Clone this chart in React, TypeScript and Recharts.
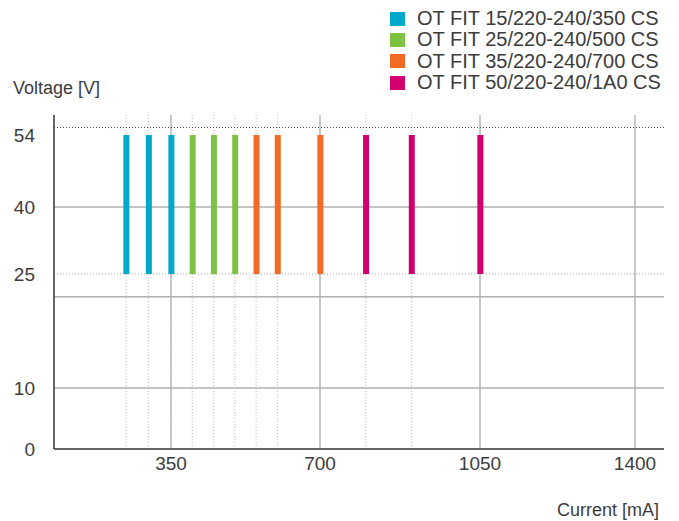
import { ComposedChart, Bar, Cell, XAxis, YAxis, CartesianGrid } from 'recharts';

const families = [
  'OT FIT 15/220-240/350 CS',
  'OT FIT 25/220-240/500 CS',
  'OT FIT 35/220-240/700 CS',
  'OT FIT 50/220-240/1A0 CS',
];
const familyColors = ['#00A8C9', '#7DC242', '#F26A24', '#D1006F'];

const currents15 = [250, 300, 350];
const currents25 = [400, 450, 500];
const currents35 = [550, 600, 700];
const currents50 = [800, 900, 1050];

const voltMin = 25;
const voltMax = 54;

const xTicks = [350, 700, 1050, 1400];
const voltTicks = [0, 10, 25, 40, 54];
const solidVolts = [10, 22, 40];
const dottedVolts = [25];
const topVolt = 55.5;

// the drawing's axes are not to scale: piecewise stops (value -> axis units)
const voltStops = [0, 10, 25, 40, 54, 58];
const voltAxisStops = [0, 61, 175, 242, 314, 334];
const currentStops = [90, 350, 700, 1050, 1400, 1466];
const currentAxisStops = [0, 117, 266, 426, 581, 610];

const piecewise = (stops: number[], out: number[]) => (v: number) => {
  for (let i = 1; i < stops.length; i++) {
    if (v <= stops[i] || i === stops.length - 1) {
      const t = (v - stops[i - 1]) / (stops[i] - stops[i - 1]);
      return out[i - 1] + t * (out[i] - out[i - 1]);
    }
  }
  return 0;
};
const vAxis = piecewise(voltStops, voltAxisStops);
const cAxis = piecewise(currentStops, currentAxisStops);

const groups = [currents15, currents25, currents35, currents50];
const rows = groups.flatMap((list, g) =>
  list.map((c) => ({ current: cAxis(c), volts: [vAxis(voltMin), vAxis(voltMax)], color: familyColors[g] }))
);
const barPos = rows.map((r) => r.current);
const xTickPos = xTicks.map(cAxis);
const yTickPos = voltTicks.map(vAxis);

const font = '"Liberation Sans", Arial, sans-serif';
const textColor = '#3c3c3c';

const App = () => {
  return (
    <div style={{ position: 'absolute', left: 0, top: 0, width: 679, height: 521, fontFamily: font, color: textColor }}>
      <div style={{ position: 'absolute', left: 390, top: 8 }}>
        {families.map((name, i) => (
          <div key={name} style={{ display: 'flex', alignItems: 'center', height: 21.3 }}>
            <div style={{ width: 15, height: 14, background: familyColors[i], marginRight: 12 }} />
            <span style={{ fontSize: 20, whiteSpace: 'nowrap' }}>{name}</span>
          </div>
        ))}
      </div>
      <div style={{ position: 'absolute', left: 13, top: 78, fontSize: 18, lineHeight: '20px' }}>Voltage [V]</div>
      <div style={{ position: 'absolute', left: 557, top: 500, fontSize: 18, lineHeight: '20px' }}>Current [mA]</div>

      <ComposedChart width={679} height={521} data={rows} margin={{ top: 115, right: 15, bottom: 42, left: 0 }}>
        <CartesianGrid horizontal={false} verticalValues={barPos} stroke="#c4c4c4" strokeDasharray="1 2" strokeWidth={1.2} />
        <CartesianGrid horizontal={false} verticalValues={xTickPos} stroke="#b8b8b8" strokeWidth={1.5} />
        <CartesianGrid vertical={false} horizontalValues={solidVolts.map(vAxis)} stroke="#b0b0b0" strokeWidth={1.5} />
        <CartesianGrid vertical={false} horizontalValues={dottedVolts.map(vAxis)} stroke="#a8a8a8" strokeDasharray="1 2" strokeWidth={1.2} />
        <CartesianGrid vertical={false} horizontalValues={[vAxis(topVolt)]} stroke="#555" strokeDasharray="1 2" strokeWidth={1.2} />
        <XAxis
          dataKey="current"
          type="number"
          domain={[0, 610]}
          ticks={xTickPos}
          allowDataOverflow
          tickFormatter={(v: number) => String(xTicks[xTickPos.indexOf(v)] ?? '')}
          tickLine={false}
          tickSize={0}
          tickMargin={8}
          height={30}
          axisLine={{ stroke: '#333', strokeWidth: 1.5 }}
          tick={{ fill: textColor, fontSize: 19, fontFamily: font }}
        />
        <YAxis
          type="number"
          domain={[0, 334]}
          ticks={yTickPos}
          allowDataOverflow
          tickFormatter={(v: number) => String(voltTicks[yTickPos.indexOf(v)] ?? '')}
          tickLine={false}
          tickSize={0}
          tickMargin={19}
          width={54}
          axisLine={{ stroke: '#333', strokeWidth: 1.5 }}
          tick={{ fill: textColor, fontSize: 19, fontFamily: font }}
        />
        <Bar dataKey="volts" barSize={6} isAnimationActive={false}>
          {rows.map((r) => (
            <Cell key={r.current} fill={r.color} />
          ))}
        </Bar>
      </ComposedChart>
    </div>
  );
};

export default App;
